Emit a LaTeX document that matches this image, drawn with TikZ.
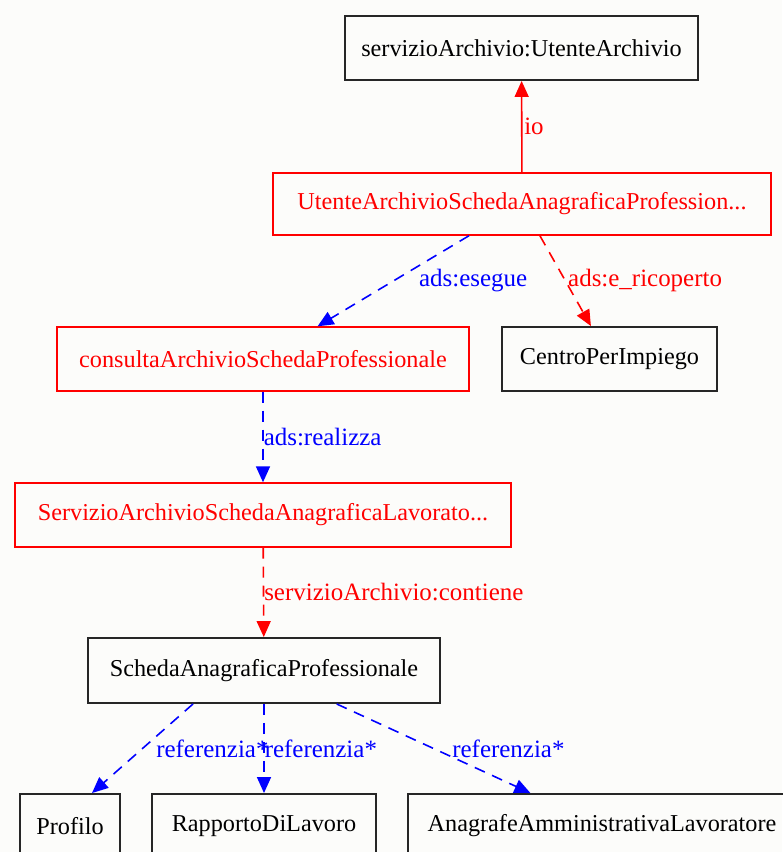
\documentclass[tikz,border=0pt]{standalone}
\usepackage{fontspec}
\setmainfont{Liberation Serif}
\usetikzlibrary{arrows.meta}
\definecolor{bgpaper}{RGB}{252,252,250}
\begin{document}
\begin{tikzpicture}[x=0.02cm,y=-0.02cm]
  % Define styles for nodes
  \tikzstyle{classe} = [draw=black!85, line width=1.1pt, rectangle,
  minimum height=1.28cm, inner sep=0pt, font=\fontsize{13.8}{16}\selectfont]
  \tikzstyle{istanza} = [classe, draw=red, line width=0.8pt, text=red]
  \tikzstyle{etichetta} = [anchor=west, inner sep=0pt,
  font=\fontsize{14.2}{16}\selectfont]

  % Define styles for edges
  \tikzstyle{rel} = [line width=0.9pt, -{Triangle[length=0.32cm,width=0.28cm]}]
  \tikzstyle{relrossa} = [rel, red, dash pattern=on 0.22cm off 0.16cm]
  \tikzstyle{relblu} = [rel, blue, dash pattern=on 0.22cm off 0.16cm]

  % Paper
  \fill[bgpaper] (0,0) rectangle (782,852);
  \useasboundingbox (0,0) rectangle (782,852);

  % Nodes from top to bottom
  \node[classe, minimum width=7.06cm] (ua) at (521.5,48) {servizioArchivio:UtenteArchivio};
  \node[istanza, minimum width=9.96cm, minimum height=1.24cm] (uasap) at (522,204) {UtenteArchivioSchedaAnagraficaProfession...};
  \node[istanza, minimum width=8.24cm] (consulta) at (263,359) {consultaArchivioSchedaProfessionale};
  \node[classe, minimum width=4.3cm] (centro) at (609.5,359) {CentroPerImpiego};
  \node[istanza, minimum width=9.92cm] (servizio) at (263,515) {ServizioArchivioSchedaAnagraficaLavorato...};
  \node[classe, minimum width=7.04cm, minimum height=1.3cm] (scheda) at (264,670.5) {SchedaAnagraficaProfessionale};

  % Bottom row (cut by the page)
  \node[classe, minimum width=2cm] (profilo) at (70,826) {Profilo};
  \node[classe, minimum width=4.48cm] (rapporto) at (264,826) {RapportoDiLavoro};
  \node[classe, minimum width=7.76cm] (anagrafe) at (602,826) {AnagrafeAmministrativaLavoratore};

  % Connections
  \draw[rel, red] (uasap) -- (ua) node[etichetta, midway, xshift=1pt] {io};
  \draw[relblu] (uasap) -- (consulta) node[etichetta, midway, xshift=0.5cm] {ads:esegue};
  \draw[relrossa] (uasap) -- (centro) node[etichetta, midway, xshift=0.04cm] {ads:e\_ricoperto};
  \draw[relblu] (consulta) -- (servizio) node[etichetta, midway] {ads:realizza};
  \draw[relrossa] (servizio) -- (scheda) node[etichetta, midway] {servizioArchivio:contiene};

  \draw[relblu] ([xshift=-1.42cm]scheda.south) -- ([xshift=0.44cm]profilo.north)
  node[etichetta, midway, xshift=0.26cm] {referenzia*};
  \draw[relblu] (scheda) -- (rapporto) node[etichetta, midway] {referenzia*};
  \draw[relblu] (scheda) -- (anagrafe) node[etichetta, midway, xshift=0.36cm] {referenzia*};
\end{tikzpicture}
\end{document}
